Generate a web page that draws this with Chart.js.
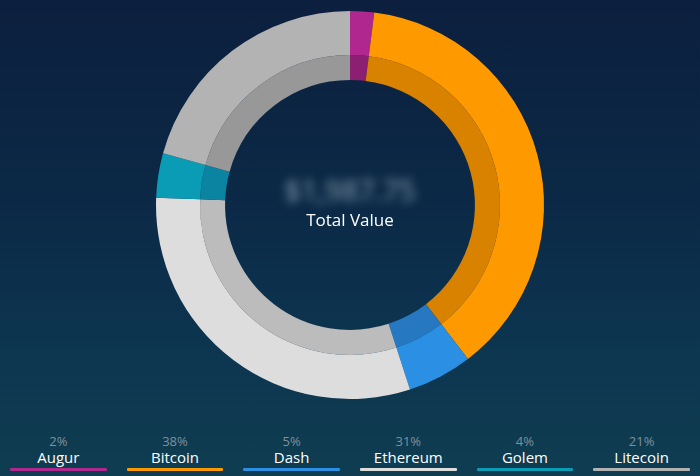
<!DOCTYPE html>
<html>
<head>
<meta charset="utf-8">
<script src="https://cdn.jsdelivr.net/npm/chart.js@4.4.1/dist/chart.umd.min.js"></script>
<style>
  html, body { margin: 0; padding: 0; }
  body {
    width: 700px; height: 476px; overflow: hidden; position: relative;
    font-family: "Open Sans", sans-serif;
    background: linear-gradient(180deg, #0c1f3e 0%, #0b2a47 45%, #0d3650 75%, #0f3d50 100%);
  }
  #wrap { position: absolute; left: 0; top: 0; width: 700px; height: 410px; }
  .center { position: absolute; left: 0; width: 700px; text-align: center; color: #fff; }
  #amount { top: 170px; font-size: 29px; color: #8c9fb0; filter: blur(5px); }
  #total { top: 208px; font-size: 17px; }
  #legend { position: absolute; left: 0; top: 433px; width: 700px; display: flex; }
  .item { width: 116.66px; text-align: center; }
  .pct { color: #7f909c; font-size: 13px; line-height: 16px; }
  .name { color: #fff; font-size: 15px; line-height: 16px; }
  .bar { height: 3px; margin: 3px 10px 0 10px; border-radius: 1px; }
</style>
</head>
<body>
<div id="wrap"><canvas id="myChart" width="700" height="410"></canvas></div>
<div class="center" id="amount">$1,987.75</div>
<div class="center" id="total">Total Value</div>
<div id="legend"></div>
<script>
const coins = ['Augur', 'Bitcoin', 'Dash', 'Ethereum', 'Golem', 'Litecoin'];
const shares = [2.0, 37.6, 5.4, 30.6, 3.7, 20.7];
const pctLabels = ['2%', '38%', '5%', '31%', '4%', '21%'];
const colors = ['#b0288f', '#ff9900', '#2b90e3', '#dddddd', '#0a9cb5', '#b3b3b3'];
const darkColors = ['#8c1f72', '#d98200', '#2679c0', '#bcbcbc', '#0a84a0', '#989898'];

const ctx = document.getElementById('myChart');
const myChart = new Chart(ctx, {
    type: 'doughnut',
    data: {
        labels: coins,
        datasets: [{
            data: shares,
            backgroundColor: colors,
            borderWidth: 0,
            weight: 44
        }, {
            data: shares,
            backgroundColor: darkColors,
            borderWidth: 0,
            weight: 25
        }]
    },
    options: {
        responsive: false,
        animation: false,
        cutout: '64.4%',
        layout: { padding: { top: 11, bottom: 11 } },
        plugins: {
            legend: { display: false },
            tooltip: { enabled: false }
        }
    }
});

// legend below the chart
let legend = document.getElementById('legend');
myChart.data.labels.forEach(function (name, i) {
    let el = document.createElement('div');
    el.className = 'item';
    el.innerHTML = '<div class="pct">' + pctLabels[i] + '</div>' +
        '<div class="name">' + name + '</div>' +
        '<div class="bar" style="background:' + colors[i] + '"></div>';
    legend.appendChild(el);
});
</script>
</body>
</html>
